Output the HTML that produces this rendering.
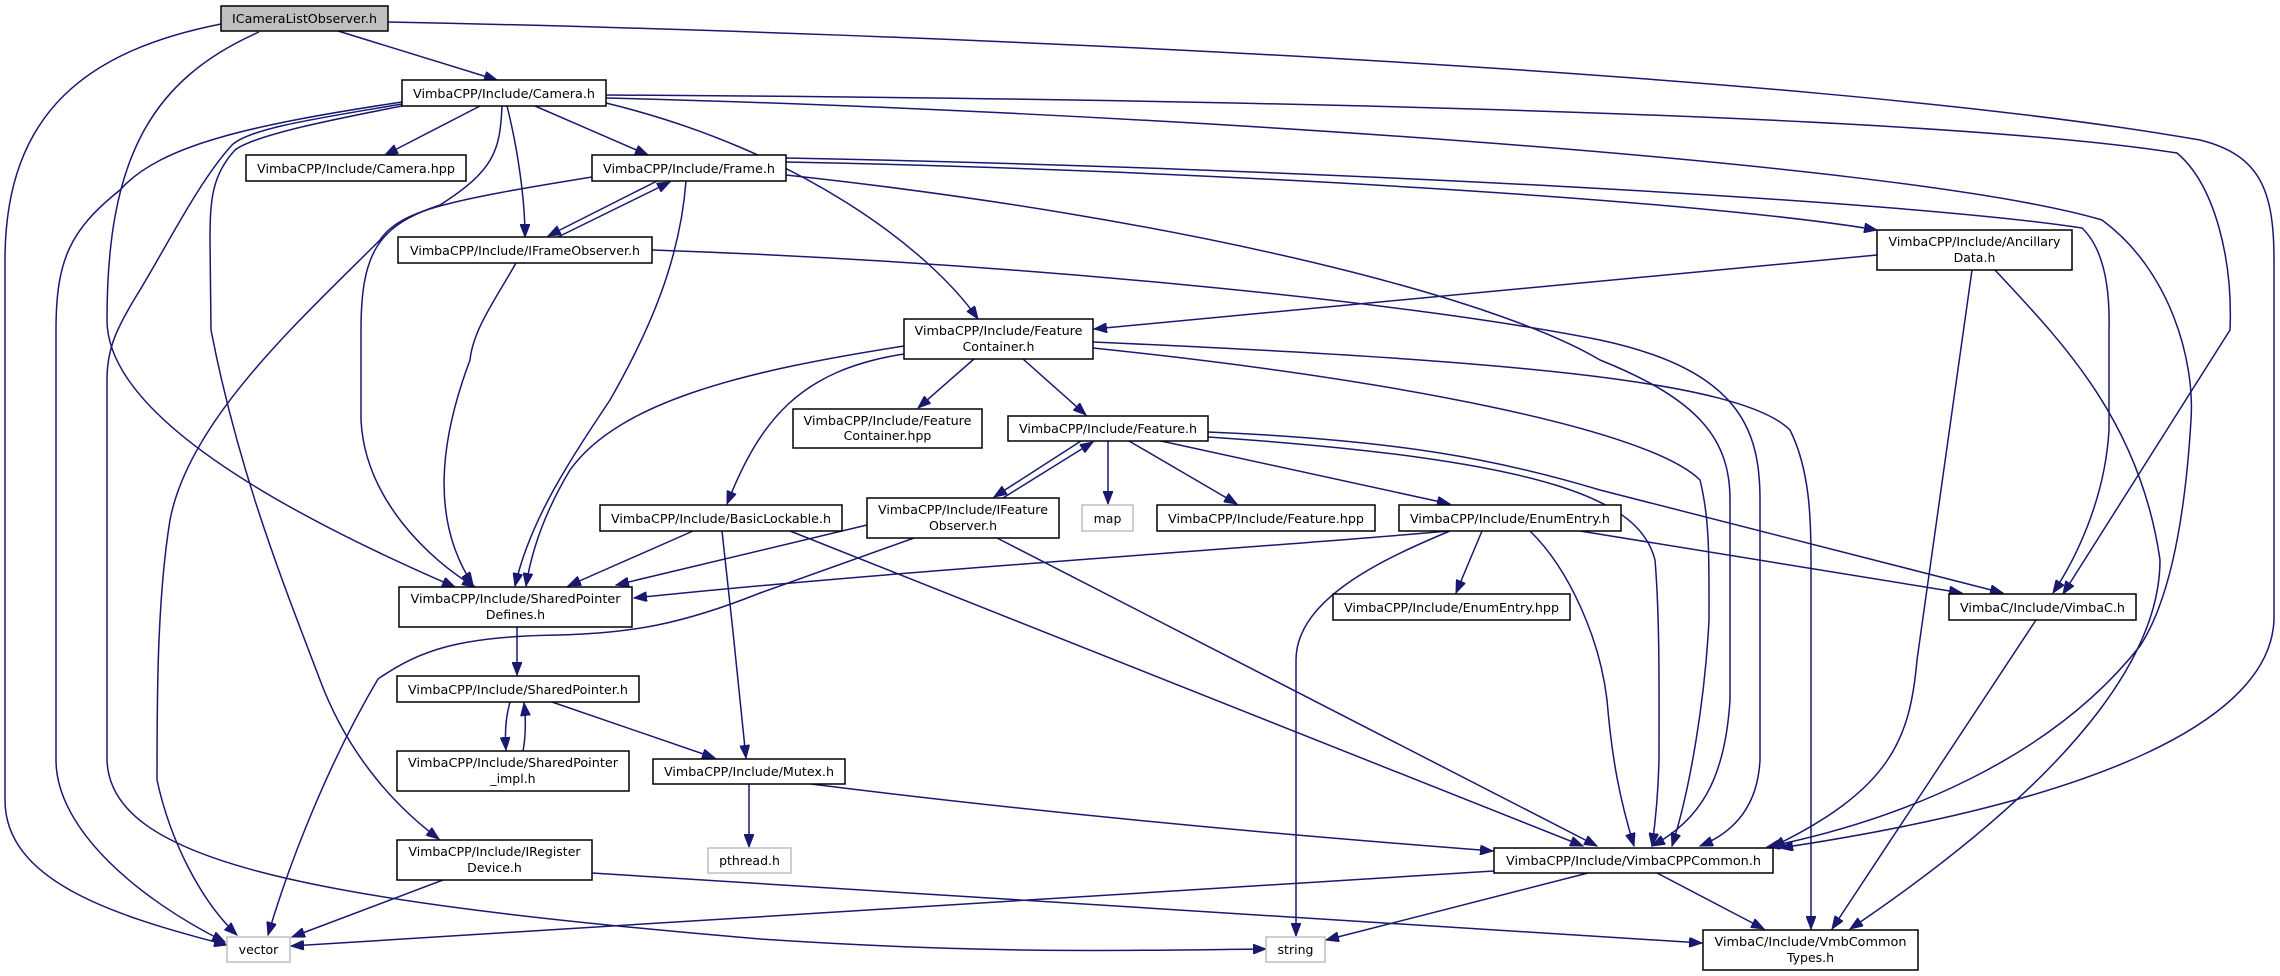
<!DOCTYPE html>
<html><head><meta charset="utf-8"><style>
html,body{margin:0;padding:0;background:#fff;}
svg{display:block;}
.e{fill:none;stroke:#191970;stroke-width:1.5;}
.n{fill:#fff;stroke:#000;stroke-width:1.5;}
.g{fill:#fff;stroke:#bfbfbf;stroke-width:1.5;}
text{font-family:"DejaVu Sans","Liberation Sans",sans-serif;font-size:12.5px;fill:#000;text-anchor:middle;}
</style></head><body>
<svg width="2280" height="976" viewBox="0 0 2280 976" xmlns="http://www.w3.org/2000/svg">
<defs><marker id="a" markerUnits="userSpaceOnUse" markerWidth="14" markerHeight="10" refX="13" refY="5" orient="auto"><path d="M0,0 L13,5 L0,10 z" fill="#191970" stroke="#191970"/></marker></defs>
<g marker-end="url(#a)">
<path class="e" d="M338,31 L497,80"/>
<path class="e" d="M221,24 C90,50 5,110 5,260 L5,800 C5,880 110,915 227,945"/>
<path class="e" d="M259,32 C150,80 107,160 107,320 C107,420 300,520 455,587"/>
<path class="e" d="M388,22 C900,32 1800,70 2200,140 C2260,155 2274,190 2274,260 L2274,620 C2270,720 2100,800 1780,848"/>
<path class="e" d="M480,106 L385,155"/>
<path class="e" d="M535,106 L648,155"/>
<path class="e" d="M507,106 C518,150 525,200 525,237"/>
<path class="e" d="M502,106 C500,150 495,170 440,205 C380,225 361,250 361,330 L361,420 C365,500 430,560 475,587"/>
<path class="e" d="M402,102 C250,125 160,145 120,190 C70,230 56,260 56,330 L56,760 C56,830 140,900 225,942"/>
<path class="e" d="M402,104 C320,118 250,128 232,145 C200,180 170,240 140,290 C115,330 107,350 107,380 L107,760 C110,860 300,900 760,939 C1000,955 1150,950 1266,949"/>
<path class="e" d="M402,106 C330,120 255,135 235,150 C212,175 210,200 210,240 L211,330 C240,480 290,600 320,680 C350,760 400,810 439,839"/>
<path class="e" d="M606,103 C800,150 930,250 978,319"/>
<path class="e" d="M606,95 C1100,98 1900,110 2177,153 C2215,185 2233,260 2230,330 L2063,594"/>
<path class="e" d="M606,98 C1100,110 1900,160 2102,220 C2170,270 2195,360 2191,420 C2185,520 2170,600 2140,646 C2050,760 1900,820 1767,847"/>
<path class="e" d="M657,181 L548,236"/>
<path class="e" d="M558,237 L670,182"/>
<path class="e" d="M686,181 C680,260 650,330 610,400 C570,460 530,520 515,586"/>
<path class="e" d="M592,177 C450,200 400,210 380,240 C300,320 189,420 170,520 C157,600 157,700 157,780 C170,840 200,900 237,935"/>
<path class="e" d="M786,162 C1200,170 1700,200 1877,230"/>
<path class="e" d="M786,158 C1300,168 1900,200 2082,228 C2105,250 2110,290 2109,330 L2109,430 C2105,500 2075,560 2053,593"/>
<path class="e" d="M786,175 C1200,220 1500,300 1600,360 C1700,400 1730,440 1730,500 L1730,700 C1725,780 1700,820 1652,846"/>
<path class="e" d="M516,263 C495,300 473,330 470,360 C440,440 430,520 473,585"/>
<path class="e" d="M652,250 C1000,262 1400,300 1600,340 C1740,370 1760,430 1760,500 L1760,760 C1758,800 1740,830 1700,846"/>
<path class="e" d="M1877,255 L1094,329"/>
<path class="e" d="M1972,270 L1917,660 C1910,740 1890,790 1772,847"/>
<path class="e" d="M1995,270 C2060,340 2140,420 2160,560 C2160,640 2100,760 1850,929"/>
<path class="e" d="M974,359 L918,408"/>
<path class="e" d="M1023,359 L1086,415"/>
<path class="e" d="M904,346 C750,370 620,400 570,470 C540,520 530,560 526,586"/>
<path class="e" d="M904,354 C800,370 760,420 727,504"/>
<path class="e" d="M1093,342 C1500,360 1740,380 1790,430 C1810,470 1811,520 1811,560 L1811,929"/>
<path class="e" d="M1093,348 C1400,380 1650,430 1700,480 C1710,520 1709,560 1709,620 C1705,700 1690,790 1672,846"/>
<path class="e" d="M1081,441 L994,497"/>
<path class="e" d="M1003,498 L1093,442"/>
<path class="e" d="M1108,441 L1108,504"/>
<path class="e" d="M1129,441 L1237,504"/>
<path class="e" d="M1161,441 L1450,504"/>
<path class="e" d="M1208,432 C1400,440 1500,460 1600,490 L2003,593"/>
<path class="e" d="M1208,437 C1550,460 1640,500 1655,560 C1660,620 1659,700 1659,760 C1658,800 1655,825 1652,846"/>
<path class="e" d="M867,525 C760,550 680,570 616,585"/>
<path class="e" d="M914,538 L760,593 C680,625 630,633 560,635 C460,636 420,650 378,679 C330,760 290,860 268,935"/>
<path class="e" d="M997,538 L1597,846"/>
<path class="e" d="M693,531 L568,586"/>
<path class="e" d="M722,531 C730,600 740,700 746,758"/>
<path class="e" d="M790,531 L1583,846"/>
<path class="e" d="M1448,531 C1300,545 900,570 634,598"/>
<path class="e" d="M1482,531 L1456,593"/>
<path class="e" d="M1450,531 C1380,560 1296,600 1296,660 L1296,936"/>
<path class="e" d="M1580,531 L1962,593"/>
<path class="e" d="M1530,531 C1570,570 1600,640 1607,700 C1612,760 1620,800 1634,846"/>
<path class="e" d="M517,627 L517,675"/>
<path class="e" d="M510,702 C505,720 505,735 506,750"/>
<path class="e" d="M523,751 C526,735 526,720 524,703"/>
<path class="e" d="M552,702 L715,758"/>
<path class="e" d="M749,784 L749,847"/>
<path class="e" d="M811,784 C1100,820 1350,840 1493,851"/>
<path class="e" d="M443,880 L292,937"/>
<path class="e" d="M592,873 C1000,900 1400,925 1702,943"/>
<path class="e" d="M1494,871 L291,946"/>
<path class="e" d="M1588,873 L1326,940"/>
<path class="e" d="M1657,873 L1764,929"/>
<path class="e" d="M2036,620 L1832,929"/>
</g>
<rect x="221" y="6" width="167" height="25" fill="#bfbfbf" stroke="#000" stroke-width="1.5"/><text x="304.5" y="23" textLength="145" lengthAdjust="spacingAndGlyphs">ICameraListObserver.h</text>
<rect class="n" x="402" y="80" width="204" height="26"/><text x="504" y="98" textLength="182" lengthAdjust="spacingAndGlyphs">VimbaCPP/Include/Camera.h</text>
<rect class="n" x="246" y="155" width="220" height="26"/><text x="356" y="173" textLength="198" lengthAdjust="spacingAndGlyphs">VimbaCPP/Include/Camera.hpp</text>
<rect class="n" x="592" y="155" width="194" height="26"/><text x="689" y="173" textLength="172" lengthAdjust="spacingAndGlyphs">VimbaCPP/Include/Frame.h</text>
<rect class="n" x="398" y="237" width="254" height="26"/><text x="525" y="255" textLength="230" lengthAdjust="spacingAndGlyphs">VimbaCPP/Include/IFrameObserver.h</text>
<rect class="n" x="1877" y="230" width="195" height="40"/><text x="1974.5" y="246" textLength="172" lengthAdjust="spacingAndGlyphs">VimbaCPP/Include/Ancillary</text><text x="1974.5" y="262">Data.h</text>
<rect class="n" x="904" y="319" width="189" height="40"/><text x="998.5" y="335" textLength="168" lengthAdjust="spacingAndGlyphs">VimbaCPP/Include/Feature</text><text x="998.5" y="351">Container.h</text>
<rect class="n" x="793" y="409" width="189" height="39"/><text x="887.5" y="425" textLength="168" lengthAdjust="spacingAndGlyphs">VimbaCPP/Include/Feature</text><text x="887.5" y="440">Container.hpp</text>
<rect class="n" x="1008" y="416" width="200" height="25"/><text x="1108" y="433" textLength="178" lengthAdjust="spacingAndGlyphs">VimbaCPP/Include/Feature.h</text>
<rect class="n" x="600" y="505" width="242" height="26"/><text x="721" y="523" textLength="220" lengthAdjust="spacingAndGlyphs">VimbaCPP/Include/BasicLockable.h</text>
<rect class="n" x="867" y="498" width="192" height="40"/><text x="963" y="514" textLength="170" lengthAdjust="spacingAndGlyphs">VimbaCPP/Include/IFeature</text><text x="963" y="530">Observer.h</text>
<rect class="g" x="1082" y="505" width="51" height="26"/><text x="1107.5" y="523">map</text>
<rect class="n" x="1157" y="505" width="218" height="26"/><text x="1266" y="523" textLength="196" lengthAdjust="spacingAndGlyphs">VimbaCPP/Include/Feature.hpp</text>
<rect class="n" x="1399" y="505" width="222" height="26"/><text x="1510" y="523" textLength="200" lengthAdjust="spacingAndGlyphs">VimbaCPP/Include/EnumEntry.h</text>
<rect class="n" x="1333" y="594" width="237" height="26"/><text x="1451.5" y="612" textLength="215" lengthAdjust="spacingAndGlyphs">VimbaCPP/Include/EnumEntry.hpp</text>
<rect class="n" x="1949" y="594" width="187" height="26"/><text x="2042.5" y="612" textLength="165" lengthAdjust="spacingAndGlyphs">VimbaC/Include/VimbaC.h</text>
<rect class="n" x="399" y="587" width="233" height="40"/><text x="515.5" y="603" textLength="210" lengthAdjust="spacingAndGlyphs">VimbaCPP/Include/SharedPointer</text><text x="515.5" y="619">Defines.h</text>
<rect class="n" x="397" y="676" width="242" height="26"/><text x="518" y="694" textLength="220" lengthAdjust="spacingAndGlyphs">VimbaCPP/Include/SharedPointer.h</text>
<rect class="n" x="397" y="751" width="232" height="40"/><text x="513" y="767" textLength="210" lengthAdjust="spacingAndGlyphs">VimbaCPP/Include/SharedPointer</text><text x="513" y="783">_impl.h</text>
<rect class="n" x="653" y="759" width="192" height="25"/><text x="749" y="776" textLength="170" lengthAdjust="spacingAndGlyphs">VimbaCPP/Include/Mutex.h</text>
<rect class="g" x="708" y="848" width="83" height="25"/><text x="749.5" y="865">pthread.h</text>
<rect class="n" x="1494" y="848" width="279" height="25"/><text x="1633.5" y="865" textLength="255" lengthAdjust="spacingAndGlyphs">VimbaCPP/Include/VimbaCPPCommon.h</text>
<rect class="n" x="397" y="840" width="195" height="40"/><text x="494.5" y="856" textLength="172" lengthAdjust="spacingAndGlyphs">VimbaCPP/Include/IRegister</text><text x="494.5" y="872">Device.h</text>
<rect class="g" x="227" y="937" width="63" height="25"/><text x="258.5" y="954">vector</text>
<rect class="g" x="1266" y="937" width="59" height="25"/><text x="1295.5" y="954">string</text>
<rect class="n" x="1703" y="930" width="215" height="40"/><text x="1810.5" y="946" textLength="192" lengthAdjust="spacingAndGlyphs">VimbaC/Include/VmbCommon</text><text x="1810.5" y="962">Types.h</text>
</svg>
</body></html>
